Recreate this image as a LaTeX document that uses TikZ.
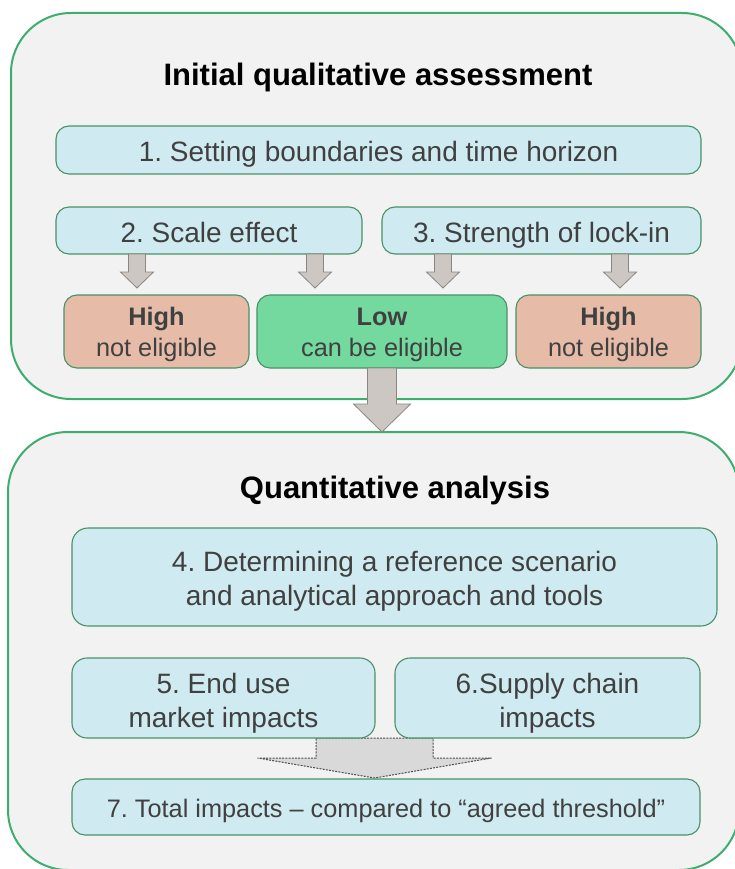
\documentclass[tikz,border=0pt]{standalone}
\usepackage{fontspec}
\setmainfont{Liberation Sans}
\frenchspacing
\definecolor{panel}{HTML}{F2F2F2}
\definecolor{panelline}{HTML}{3DAE6B}
\definecolor{boxline}{HTML}{4A9168}
\definecolor{boxblue}{HTML}{CFEAF0}
\definecolor{highfill}{HTML}{E6BBA7}
\definecolor{lowfill}{HTML}{73D99F}
\definecolor{txt}{HTML}{404040}
\definecolor{arrowfill}{HTML}{CCC7C2}
\definecolor{arrowline}{HTML}{8C8680}
\definecolor{mergefill}{HTML}{D9D9D9}
\definecolor{mergeline}{HTML}{505050}
\begin{document}
\begin{tikzpicture}[x=1pt,y=-1pt,
  container/.style={draw=panelline, line width=2pt, fill=panel, rounded corners=60pt,
    inner sep=0pt, outer sep=0pt},
  stepbox/.style={draw=boxline, line width=1.1pt, fill=boxblue, rounded corners=13pt,
    inner sep=0pt, outer sep=0pt},
  highbox/.style={stepbox, fill=highfill},
  lowbox/.style={stepbox, fill=lowfill},
  title/.style={anchor=base, font=\bfseries\fontsize{31}{37}\selectfont, text=black, inner sep=0pt},
  boxtext/.style={anchor=base, font=\fontsize{28}{34}\selectfont, text=txt, inner sep=0pt},
  smalltext/.style={anchor=base, font=\fontsize{25.3}{30}\selectfont, text=txt, inner sep=0pt},
  smallbold/.style={smalltext, font=\bfseries\fontsize{25.3}{30}\selectfont},
  smallarrow/.style={fill=arrowfill, draw=arrowline, line width=0.8pt, line join=miter},
  mergearrow/.style={fill=mergefill, draw=mergeline, line width=1pt, dash pattern=on 2pt off 1.2pt},
  pics/blockdown/.style args={#1/#2/#3/#4}{code={
    \path[pic actions] (-#3,0) -- (#3,0) -- (#3,#1) -- (#4,#1) -- (0,#2)
      -- (-#4,#1) -- (-#3,#1) -- cycle;
  }}
]
\useasboundingbox (0,0) rectangle (735,869);
\clip (0,0) rectangle (735,869);

% the two stage panels
\node[container, minimum width=731pt, minimum height=386pt] (stageA) at (376.5,206) {};
\node[container, minimum width=731pt, minimum height=438pt] (stageB) at (373.5,651) {};

% stage A: initial qualitative assessment
\node[title] (titleA) at (378,86) {Initial qualitative assessment};

\node[stepbox, minimum width=645pt, minimum height=48pt] (s1) at (378.5,150) {};
\node[boxtext] (s1t) at (s1.center |- 0,162) {1. Setting boundaries and time horizon};

\node[stepbox, minimum width=306pt, minimum height=47pt] (s2) at (209,230.5) {};
\node[boxtext] (s2t) at (s2.center |- 0,242) {2. Scale effect};

\node[stepbox, minimum width=319pt, minimum height=47pt] (s3) at (541.5,230.5) {};
\node[boxtext] (s3t) at (s3.center |- 0,242) {3. Strength of lock-in};

\node[highbox, minimum width=185pt, minimum height=73pt] (hiA) at (156.5,331.5) {};
\node[smallbold] (hiAt) at (hiA.center |- 0,325) {High};
\node[smalltext] (hiAs) at (hiA.center |- 0,356) {not eligible};

\node[lowbox, minimum width=250pt, minimum height=73pt] (lo) at (382,331.5) {};
\node[smallbold] (lot) at (lo.center |- 0,325) {Low};
\node[smalltext] (los) at (lo.center |- 0,356) {can be eligible};

\node[highbox, minimum width=185pt, minimum height=73pt] (hiB) at (608.5,331.5) {};
\node[smallbold] (hiBt) at (hiB.center |- 0,325) {High};
\node[smalltext] (hiBs) at (hiB.center |- 0,356) {not eligible};

% small block arrows from the two criteria to the outcomes
\pic[smallarrow] at (137,254) {blockdown=18/34/8.5/16.5};
\pic[smallarrow] at (315,254) {blockdown=18/34/8.5/16.5};
\pic[smallarrow] at (443,254) {blockdown=18/34/8.5/16.5};
\pic[smallarrow] at (620,254) {blockdown=18/34/8.5/16.5};

% large block arrow from "Low" into stage B
\pic[smallarrow] at (lo.south) {blockdown=36/64/14.5/28.5};

% stage B: quantitative analysis
\node[title] (titleB) at (395,498) {Quantitative analysis};

\node[stepbox, minimum width=645pt, minimum height=98pt, rounded corners=16pt] (s4) at (394.5,577) {};
\node[boxtext] (s4a) at (s4.center |- 0,571) {4. Determining a reference scenario};
\node[boxtext] (s4b) at (s4.center |- 0,605) {and analytical approach and tools};

% merging arrow from steps 5 and 6 to step 7
\pic[mergearrow] at (374.5,738) {blockdown=20/40/58.5/117};

\node[stepbox, minimum width=303pt, minimum height=80pt, rounded corners=15pt] (s5) at (223.5,698) {};
\node[boxtext] (s5a) at (s5.center |- 0,693) {5. End use};
\node[boxtext] (s5b) at (s5.center |- 0,727) {market impacts};

\node[stepbox, minimum width=305pt, minimum height=80pt, rounded corners=15pt] (s6) at (547.5,698) {};
\node[boxtext] (s6a) at (s6.center |- 0,693) {6.Supply chain};
\node[boxtext] (s6b) at (s6.center |- 0,727) {impacts};

\node[stepbox, minimum width=628pt, minimum height=56pt] (s7) at (386,807) {};
\node[smalltext] (s7t) at (s7.center |- 0,817) {7. Total impacts – compared to “agreed threshold”};
\end{tikzpicture}
\end{document}
